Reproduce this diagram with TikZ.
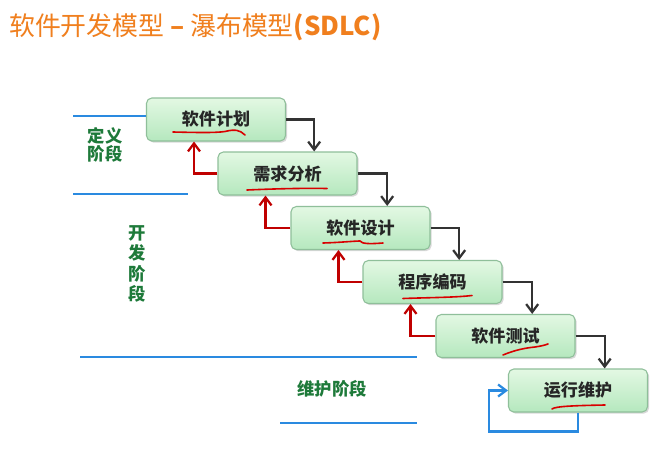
\documentclass[tikz,border=0pt]{standalone}
\usepackage{fontspec}
\newfontfamily\cjk{Noto Sans CJK SC}
\usetikzlibrary{arrows.meta,shadows}
\definecolor{ttl}{HTML}{F07F1E}
\definecolor{grn}{HTML}{1E7A3A}
\definecolor{bxline}{HTML}{8FBF9A}
\definecolor{bxtop}{HTML}{E3F8E3}
\definecolor{bxbot}{HTML}{B5E8BE}
\definecolor{blk}{HTML}{333333}
\definecolor{rdc}{HTML}{C00000}
\definecolor{blu}{HTML}{2A8AE0}
\tikzset{
  stepbox/.style={draw=bxline, line width=0.8pt, rounded corners=4pt,
    top color=bxtop, bottom color=bxbot,
    drop shadow={shadow xshift=1.2pt, shadow yshift=-1.2pt, opacity=0.3},
    minimum width=104.25pt, minimum height=32.25pt, inner sep=0pt,
    font=\cjk\bfseries\fontsize{12.8pt}{14pt}\selectfont, text=black!85},
  fwd/.style={draw=blk, line width=1.7pt, -{Straight Barb[length=6pt,width=9pt]}},
  back/.style={draw=rdc, line width=1.7pt, -{Straight Barb[length=6pt,width=9pt]}},
  loopar/.style={draw=blu, line width=1.7pt, -{Straight Barb[length=6pt,width=9pt]}},
  sep/.style={draw=blu, line width=1.7pt},
  uline/.style={draw=red!85!black, line width=1.2pt, line cap=round},
  phase/.style={text=grn, font=\cjk\bfseries\fontsize{13pt}{14pt}\selectfont, align=center, inner sep=0pt}
}
\begin{document}
\begin{tikzpicture}[x=0.75pt,y=-0.75pt]
\useasboundingbox (0,0) rectangle (672,450);
\fill[white] (0,0) rectangle (672,450);
% title
\node[anchor=west, text=ttl, inner sep=0pt, font=\cjk\fontsize{19.4pt}{22pt}\selectfont] (title) at (9,27)
  {软件开发模型 \textbf{– }瀑布模型\textbf{(SDLC)}};
% boxes
\node[stepbox] (b1) at (216,119.5) {软件计划};
\node[stepbox] (b2) at (287.5,173.5) {需求分析};
\node[stepbox] (b3) at (360.5,228) {软件设计};
\node[stepbox] (b4) at (432.5,282) {程序编码};
\node[stepbox] (b5) at (505.5,336) {软件测试};
\node[stepbox] (b6) at (578,390.5) {运行维护};
% forward arrows
\foreach \a/\b in {b1/b2,b2/b3,b3/b4,b4/b5,b5/b6}
  \draw[fwd] (\a.east) -| ([xshift=20pt]\b.north);
% back arrows
\foreach \a/\b in {b2/b1,b3/b2,b4/b3,b5/b4}
  \draw[back] (\a.west) -| ([xshift=-16.5pt]\b.south);
% maintenance loop
\draw[loopar] (b6.south) -- ++(0,19) -- ++(-89,0) |- (b6.west);
% phase separators
\coordinate (s1) at (73,116);
\draw[sep] (s1) -- (b1.west |- s1);
\coordinate (s2a) at (73,194); \coordinate (s2b) at (188,194);
\draw[sep] (s2a) -- (s2b);
\coordinate (s3a) at (80,357); \coordinate (s3b) at (417,357);
\draw[sep] (s3a) -- (s3b);
\coordinate (s4a) at (280,423); \coordinate (s4b) at (417,423);
\draw[sep] (s4a) -- (s4b);
% phase labels
\node[phase] (p1) at (105,145) {定义\\阶段};
\node[phase, font=\cjk\bfseries\fontsize{13pt}{15.4pt}\selectfont] (p2) at (137.5,264) {开\\发\\阶\\段};
\node[phase] (p3) at (332,389) {维护阶段};
% hand-drawn underlines
\draw[uline] (173,132) .. controls (195,132.5) and (215,133) .. (225,131.5) .. controls (235,129) and (240,130) .. (245,135);
\draw[uline] (247,190) .. controls (270,189) and (300,188) .. (327,188.5);
\draw[uline] (323,243) .. controls (340,242.5) and (355,241) .. (360,241) .. controls (362,244) and (370,244) .. (383,243);
\draw[uline] (403,298.5) .. controls (430,297.5) and (455,297.5) .. (472,295.5);
\draw[uline] (503,355) .. controls (515,350) and (525,348) .. (535,347) .. controls (542,346) and (545,345) .. (548,344);
\draw[uline] (552,409) .. controls (555,406) and (580,405.5) .. (605,405);
\end{tikzpicture}
\end{document}
